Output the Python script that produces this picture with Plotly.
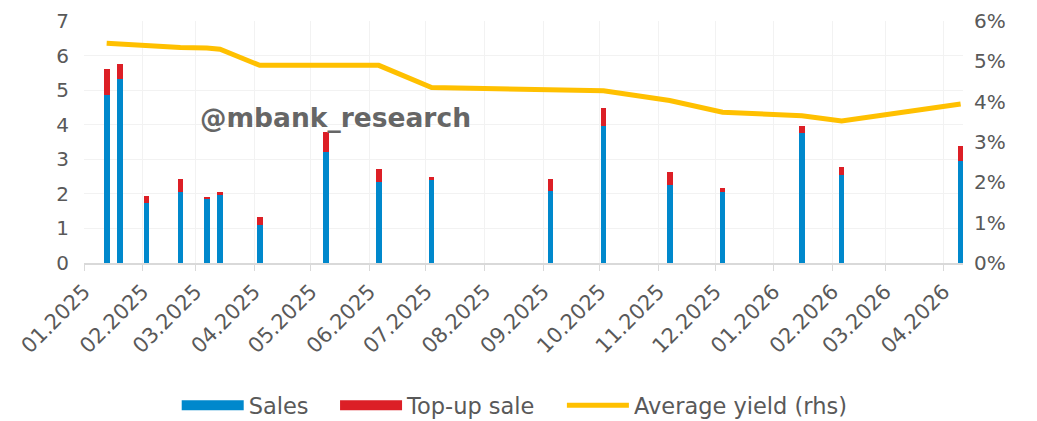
import plotly.graph_objects as go

dates = ["2025-01-13", "2025-01-20", "2025-02-03", "2025-02-21", "2025-03-07",
         "2025-03-14", "2025-04-04", "2025-05-09", "2025-06-06", "2025-07-04",
         "2025-09-05", "2025-10-03", "2025-11-07", "2025-12-05", "2026-01-16",
         "2026-02-06", "2026-04-10"]
sales = [4.85, 5.33, 1.73, 2.06, 1.87, 1.97, 1.10, 3.22, 2.35, 2.40,
         2.09, 3.96, 2.26, 2.05, 3.76, 2.54, 2.96]
topup = [0.76, 0.42, 0.20, 0.36, 0.04, 0.08, 0.23, 0.57, 0.36, 0.10,
         0.34, 0.51, 0.37, 0.12, 0.21, 0.23, 0.43]
avg_yield = [0.0545, 0.0543, 0.0539, 0.0534, 0.0533, 0.0530, 0.0490, 0.0490,
             0.0490, 0.0435, 0.0429, 0.0427, 0.0403, 0.0374, 0.0365, 0.0352, 0.0394]

BLUE = "#0088CC"
RED = "#DC1F26"
YELLOW = "#FFC000"
GREY = "#595959"
FONT = "DejaVu Sans"

bar_w = 3.0 * 86400000
pad = "\u00a0" * 3

fig = go.Figure()

fig.add_trace(go.Bar(x=dates, y=sales, name="Sales", marker_color=BLUE,
                     width=bar_w, marker_line_width=0, showlegend=False))
fig.add_trace(go.Bar(x=dates, y=topup, name="Top-up sale", marker_color=RED,
                     width=bar_w, marker_line_width=0, showlegend=False))
fig.add_trace(go.Scatter(x=dates, y=avg_yield, name="Average yield (rhs)",
                         mode="lines", line=dict(color=YELLOW, width=5),
                         yaxis="y2", showlegend=False))

# legend entries (wide boxes like the original)
for nm, col, w in [("Sales" + pad, BLUE, 16), ("Top-up sale" + pad, RED, 16),
                   ("Average yield (rhs)", YELLOW, 5)]:
    fig.add_trace(go.Scatter(x=[None], y=[None], name=nm, mode="lines",
                             line=dict(color=col, width=w)))

fig.add_annotation(text="<b>@mbank_research</b>", x=0.286, y=0.6,
                   xref="paper", yref="paper", showarrow=False,
                   xanchor="center", yanchor="middle",
                   font=dict(family="DejaVu Sans", size=26.5, color="#666666"))

# page body adds an 8px offset, margins are shifted to compensate
fig.update_layout(
    width=1037, height=421,
    margin=dict(l=76, r=82, t=13, b=166, autoexpand=False),
    paper_bgcolor="white", plot_bgcolor="white",
    barmode="stack", bargap=0,
    font=dict(family=FONT, color=GREY, size=19),
    showlegend=True,
    legend=dict(orientation="h", x=0.49, xanchor="center", y=-0.589,
                yanchor="middle", traceorder="normal",
                font=dict(size=22.5, color=GREY), itemwidth=62),
    xaxis=dict(type="date", range=["2025-01-01", "2026-04-11 06:00"],
               dtick="M1", tick0="2025-01-01", tickformat="%m.%Y",
               tickangle=-45, showgrid=True, gridcolor="#F2F2F2",
               showline=True, linecolor="#D9D9D9", linewidth=2,
               ticks="outside", ticklen=6, tickcolor="#D9D9D9",
               tickfont=dict(size=21, color=GREY), automargin=False),
    yaxis=dict(range=[0, 7], dtick=1, showgrid=True, gridcolor="#F2F2F2",
               zeroline=False, tickfont=dict(size=20, color=GREY),
               ticks="", ticklabelstandoff=14, automargin=False),
    yaxis2=dict(range=[0, 0.06], dtick=0.01, tickformat=".0%",
                overlaying="y", side="right", showgrid=False, zeroline=False,
                tickfont=dict(size=20, color=GREY), ticklabelstandoff=10,
                automargin=False),
)

fig.write_html("out.html")
